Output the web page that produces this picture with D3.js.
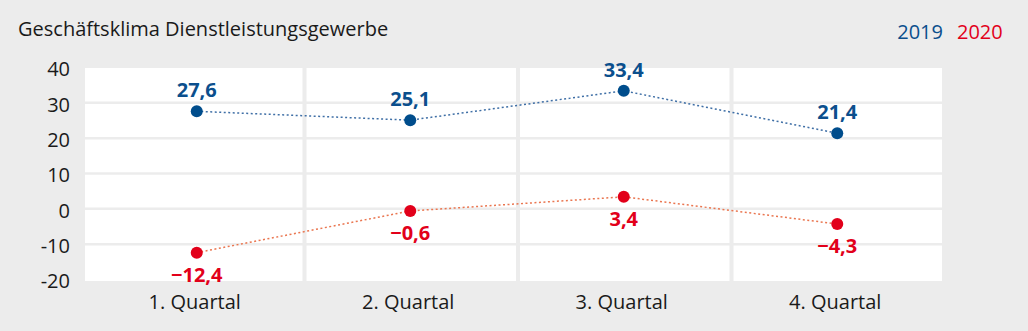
<!DOCTYPE html>
<html><head><meta charset="utf-8">
<script src="https://cdn.jsdelivr.net/npm/d3@7"></script>
<style>
html,body{margin:0;padding:0;background:#ececec;}
svg{display:block;}
text{font-family:"Open Sans","Liberation Sans",sans-serif;}
</style></head>
<body>
<script>
const categories = ["1. Quartal","2. Quartal","3. Quartal","4. Quartal"];
const values2019 = [27.6, 25.1, 33.4, 21.4];
const values2020 = [-12.4, -0.6, 3.4, -4.3];
const yTicks = [-20,-10,0,10,20,30,40];
const title = "Geschäftsklima Dienstleistungsgewerbe";
const seriesNames = ["2019","2020"];

const W = 1028, H = 331;
const FONT = "'Open Sans','Liberation Sans',sans-serif";
const svg = d3.select("body").append("svg").attr("width",W).attr("height",H);
svg.append("rect").attr("width",W).attr("height",H).attr("fill","#ececec");

const plot = {left:85, right:942, top:68, bottom:281};
const x = d3.scaleBand().domain(categories).range([90,944]).paddingInner(0).paddingOuter(0);
const y = d3.scaleLinear().domain([-20,40]).range([279.5,67.5]);

svg.append("rect").attr("x",plot.left).attr("y",plot.top)
  .attr("width",plot.right-plot.left).attr("height",plot.bottom-plot.top).attr("fill","#fff");

svg.append("g").selectAll("line").data(yTicks.filter(d=>d>-20 && d<40)).join("line")
  .attr("x1",plot.left).attr("x2",plot.right)
  .attr("y1",d=>y(d)).attr("y2",d=>y(d))
  .attr("stroke","#ececec").attr("stroke-width",2.5);

svg.append("g").selectAll("line").data(categories.slice(1)).join("line")
  .attr("x1",d=>x(d)+1).attr("x2",d=>x(d)+1)
  .attr("y1",plot.top).attr("y2",plot.bottom)
  .attr("stroke","#ececec").attr("stroke-width",4);

const yAxis = d3.axisLeft(y).tickValues(yTicks).tickSize(0).tickPadding(0)
  .tickFormat(d=>String(d));
const ya = svg.append("g").attr("transform","translate(70,0)").call(yAxis);
ya.select(".domain").remove();
ya.selectAll("text").attr("font-size",20).attr("fill","#1a1a1a").attr("dy","0.42em")
  .style("font-family",FONT);

const xAxis = d3.axisBottom(x).tickSize(0).tickPadding(0);
const xa = svg.append("g").attr("transform","translate(-2,294)").call(xAxis);
xa.select(".domain").remove();
xa.selectAll("text").attr("font-size",20).attr("fill","#1a1a1a").attr("dy","0.75em")
  .style("font-family",FONT);

const cx = d=>x(d)+x.bandwidth()/2;
const fmt = v => (v<0?"\u2212":"") + Math.abs(v).toFixed(1).replace(".",",");

const series = [
  {vals:values2019, line:"#3f6fa6", dot:"#004d8c", text:"#0b4f8d", above:true},
  {vals:values2020, line:"#ea7650", dot:"#e2001a", text:"#e2001a", above:false}
];
series.forEach(s=>{
  const data = categories.map((c,i)=>({c, v:s.vals[i]}));
  svg.append("path").datum(data)
    .attr("d", d3.line().x(d=>cx(d.c)).y(d=>y(d.v)))
    .attr("fill","none").attr("stroke",s.line).attr("stroke-width",1.5)
    .attr("stroke-dasharray","2,2.5");
  svg.append("g").selectAll("circle").data(data).join("circle")
    .attr("cx",d=>cx(d.c)).attr("cy",d=>y(d.v)).attr("r",6).attr("fill",s.dot);
  svg.append("g").selectAll("text").data(data).join("text")
    .attr("x",d=>cx(d.c)).attr("y",d=>y(d.v) + (s.above?-14:29))
    .attr("text-anchor","middle").attr("font-size",20).attr("font-weight",700)
    .attr("fill",s.text).text(d=>fmt(d.v));
});

svg.append("text").attr("x",18).attr("y",36).attr("font-size",20).attr("fill","#1a1a1a").text(title);
svg.append("text").attr("x",943).attr("y",39).attr("text-anchor","end").attr("font-size",20)
  .attr("fill","#0b4f8d").text(seriesNames[0]);
svg.append("text").attr("x",957).attr("y",39).attr("font-size",20)
  .attr("fill","#e2001a").text(seriesNames[1]);
</script>
</body></html>
